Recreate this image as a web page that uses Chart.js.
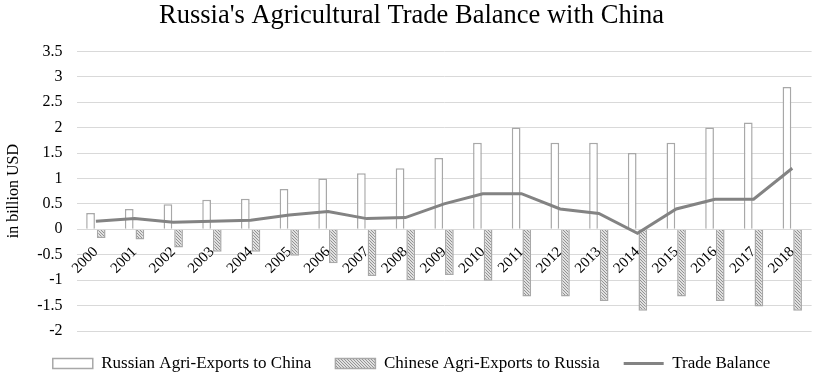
<!DOCTYPE html>
<html>
<head>
<meta charset="utf-8">
<script src="https://cdn.jsdelivr.net/npm/chart.js@4/dist/chart.umd.min.js"></script>
<style>
  html, body { margin: 0; padding: 0; background: #fff; overflow: hidden; }
  #wrap { width: 819px; height: 380px; }
</style>
</head>
<body>
<div id="wrap"><canvas id="c" width="819" height="380"></canvas></div>
<script>
const years = ["2000","2001","2002","2003","2004","2005","2006","2007","2008","2009","2010","2011","2012","2013","2014","2015","2016","2017","2018"];
const russianExports = [0.32,0.4,0.49,0.58,0.6,0.79,1.0,1.1,1.2,1.4,1.7,2.0,1.7,1.7,1.5,1.7,2.0,2.1,2.8];
const chineseExports = [-0.17,-0.2,-0.36,-0.44,-0.44,-0.52,-0.67,-0.92,-1.0,-0.9,-1.01,-1.32,-1.32,-1.41,-1.6,-1.32,-1.41,-1.52,-1.6];
const tradeBalance = [0.16,0.21,0.14,0.16,0.18,0.28,0.35,0.21,0.23,0.5,0.7,0.7,0.4,0.31,-0.08,0.4,0.59,0.59,1.2];
const yTicks = { min: -2, max: 3.5, step: 0.5 };

function hatch() {
  const p = document.createElement('canvas');
  p.width = 3; p.height = 3;
  const g = p.getContext('2d');
  g.fillStyle = '#e0e0e0';
  g.fillRect(0, 0, 3, 3);
  g.strokeStyle = '#8a8a8a';
  g.lineWidth = 0.9;
  g.beginPath();
  g.moveTo(0, 0); g.lineTo(3, 3);
  g.moveTo(-1, 2); g.lineTo(1, 4);
  g.moveTo(2, -1); g.lineTo(4, 1);
  g.stroke();
  return g.createPattern(p, 'repeat');
}
const pattern = hatch();
const serif = "'Liberation Serif', 'Times New Roman', serif";

new Chart(document.getElementById('c'), {
  type: 'bar',
  data: {
    labels: years,
    datasets: [
      {
        type: 'line',
        label: 'Trade Balance',
        data: tradeBalance,
        borderColor: '#838383',
        backgroundColor: '#838383',
        borderWidth: 3,
        pointRadius: 0,
        tension: 0,
        order: 0,
        pointStyle: 'line'
      },
      {
        label: 'Russian Agri-Exports to China',
        data: russianExports,
        backgroundColor: '#ffffff',
        borderColor: '#a8a8a8',
        borderWidth: 1.5,
        order: 1,
        pointStyle: 'rect'
      },
      {
        label: 'Chinese Agri-Exports to Russia',
        data: chineseExports,
        backgroundColor: pattern,
        borderColor: '#a8a8a8',
        borderWidth: 1.5,
        order: 1,
        pointStyle: 'rect'
      }
    ]
  },
  options: {
    responsive: false,
    animation: false,
    devicePixelRatio: 1,
    layout: { padding: { left: 4, right: 0, top: 0, bottom: -2 } },
    datasets: {
      bar: { categoryPercentage: 0.55, barPercentage: 0.82, grouped: true }
    },
    plugins: {
      title: {
        display: true,
        text: "Russia's Agricultural Trade Balance with China",
        color: '#000',
        font: { family: serif, size: 26.5, weight: 'normal' },
        padding: { top: 0, bottom: 19.5 }
      },
      legend: {
        position: 'bottom',
        labels: {
          usePointStyle: true,
          pointStyleWidth: 40,
          boxHeight: 10,
          padding: 24,
          color: '#000',
          font: { family: serif, size: 17 },
          sort: (a, b) => {
            const ord = { 'Russian Agri-Exports to China': 0, 'Chinese Agri-Exports to Russia': 1, 'Trade Balance': 2 };
            return ord[a.text] - ord[b.text];
          }
        }
      },
      tooltip: { enabled: false }
    },
    scales: {
      x: {
        position: { y: 0 },
        grid: { display: false, drawTicks: false },
        border: { display: false },
        ticks: {
          maxRotation: 45,
          minRotation: 45,
          autoSkip: false,
          padding: 14,
          color: '#000',
          font: { family: serif, size: 15 }
        }
      },
      y: {
        min: yTicks.min,
        max: yTicks.max,
        ticks: {
          stepSize: yTicks.step,
          padding: 14,
          color: '#000',
          font: { family: serif, size: 16 },
          callback: (v) => String(Number(Number(v).toFixed(1)))
        },
        grid: { color: '#d9d9d9', drawTicks: false },
        border: { display: false },
        title: {
          display: true,
          text: 'in billion USD',
          color: '#000',
          font: { family: serif, size: 16 },
          padding: { top: 0, bottom: 0 }
        }
      }
    }
  }
});
</script>
</body>
</html>
